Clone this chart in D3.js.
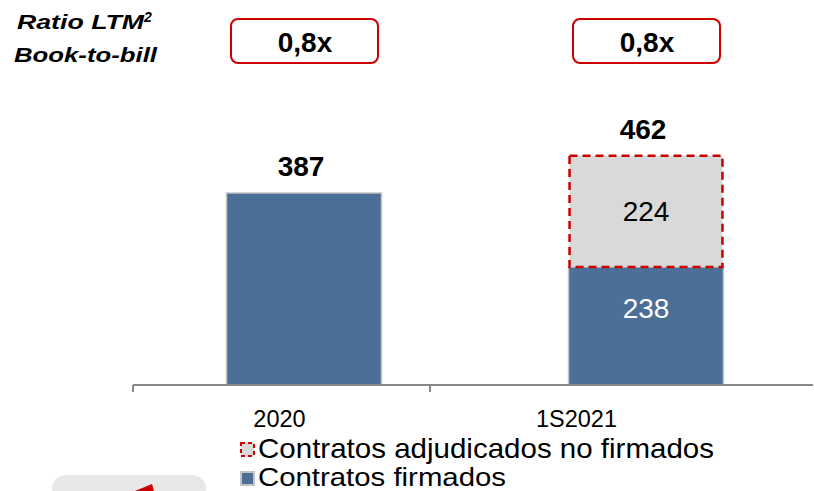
<!DOCTYPE html>
<html>
<head>
<meta charset="utf-8">
<script src="https://cdn.jsdelivr.net/npm/d3@7"></script>
<style>
  body { margin: 0; background: #fff; }
  svg { display: block; font-family: "Liberation Sans", Arial, sans-serif; }
</style>
</head>
<body>
<div id="chart"></div>
<script>
const periods = ['2020', '1S2021'];
const firmados = [387, 238];
const adjudicados = [0, 224];
const totals = [387, 462];
const ratios = ['0,8x', '0,8x'];
const legendLabels = ['Contratos adjudicados no firmados', 'Contratos firmados'];

const width = 814, height = 491;
const blue = '#4b6f97', grey = '#d9d9d9', red = '#cc0000';

const svg = d3.select('#chart').append('svg')
    .attr('width', width)
    .attr('height', height);

// category axis (ticks and labels)
const x = d3.scaleBand()
    .domain(periods)
    .range([133, 727])
    .padding(0);

// bars are laid out on their own, wider band
const xBar = d3.scaleBand()
    .domain(periods)
    .range([133, 817])
    .paddingInner(0.547)
    .paddingOuter(0.2735);

const y = d3.scaleLinear()
    .domain([0, 387])
    .range([385, 193]);

const barC = d => xBar(d) + xBar.bandwidth() / 2;

const rows = periods.map((p, i) => ({ p, f: firmados[i], a: adjudicados[i], t: totals[i], r: ratios[i] }));

// firmados
svg.append('g').selectAll('rect')
    .data(rows)
    .join('rect')
    .attr('x', d => xBar(d.p))
    .attr('y', d => y(d.f))
    .attr('width', xBar.bandwidth())
    .attr('height', d => y(0) - y(d.f))
    .attr('fill', blue)
    .attr('stroke', '#c4c4c4')
    .attr('stroke-width', 1.5);

// adjudicados no firmados
svg.append('g').selectAll('rect')
    .data(rows.filter(d => d.a > 0))
    .join('rect')
    .attr('x', d => xBar(d.p) + 1)
    .attr('y', d => y(d.f + d.a))
    .attr('width', xBar.bandwidth() - 2)
    .attr('height', d => y(d.f) - y(d.f + d.a))
    .attr('fill', grey)
    .attr('stroke', red)
    .attr('stroke-width', 2.5)
    .attr('stroke-dasharray', '8,5');

// axis
const axisY = y(0);
svg.append('line')
    .attr('x1', 133).attr('x2', 813)
    .attr('y1', axisY).attr('y2', axisY)
    .attr('stroke', '#888').attr('stroke-width', 2);
svg.append('g').selectAll('line')
    .data(periods)
    .join('line')
    .attr('x1', d => x(d)).attr('x2', d => x(d))
    .attr('y1', axisY).attr('y2', axisY + 7)
    .attr('stroke', '#888').attr('stroke-width', 2);

svg.append('g').selectAll('text')
    .data(periods)
    .join('text')
    .attr('x', d => x(d) + x.bandwidth() / 2 - 2)
    .attr('y', 427)
    .attr('text-anchor', 'middle')
    .attr('font-size', 23.5)
    .attr('fill', '#000')
    .text(d => d);

// totals
svg.append('g').selectAll('text')
    .data(rows)
    .join('text')
    .attr('x', d => barC(d.p) - 3)
    .attr('y', d => y(d.t) - 17)
    .attr('text-anchor', 'middle')
    .attr('font-size', 28)
    .attr('font-weight', 'bold')
    .text(d => d.t);

// inner labels for the stacked bar
const stacked = rows.filter(d => d.a > 0);
svg.append('g').selectAll('text')
    .data(stacked)
    .join('text')
    .attr('x', d => barC(d.p))
    .attr('y', d => (y(d.f) + y(d.f + d.a)) / 2 + 10)
    .attr('text-anchor', 'middle')
    .attr('font-size', 28)
    .text(d => d.a);
svg.append('g').selectAll('text')
    .data(stacked)
    .join('text')
    .attr('x', d => barC(d.p))
    .attr('y', d => (y(0) + y(d.f)) / 2 - 8)
    .attr('text-anchor', 'middle')
    .attr('font-size', 28)
    .attr('fill', '#fff')
    .text(d => d.f);

// ratio boxes
const boxes = svg.append('g').selectAll('g')
    .data(rows)
    .join('g')
    .attr('transform', d => `translate(${barC(d.p)},41)`);
boxes.append('rect')
    .attr('x', -73).attr('y', -22)
    .attr('width', 147).attr('height', 44)
    .attr('rx', 7)
    .attr('fill', '#fff')
    .attr('stroke', red)
    .attr('stroke-width', 2);
boxes.append('text')
    .attr('x', 1).attr('y', 11)
    .attr('text-anchor', 'middle')
    .attr('font-size', 28)
    .attr('font-weight', 'bold')
    .text(d => d.r);

// ratio title
const title = svg.append('g')
    .attr('font-weight', 'bold')
    .attr('font-style', 'italic')
    .attr('font-size', 21);
title.append('text')
    .attr('x', 17).attr('y', 29)
    .attr('textLength', 127)
    .attr('lengthAdjust', 'spacingAndGlyphs')
    .text('Ratio LTM');
title.append('text')
    .attr('x', 144).attr('y', 22)
    .attr('font-size', 14)
    .text('2');
title.append('text')
    .attr('x', 14).attr('y', 62)
    .attr('textLength', 143)
    .attr('lengthAdjust', 'spacingAndGlyphs')
    .text('Book-to-bill');

// legend
const legend = svg.append('g').selectAll('g')
    .data(legendLabels)
    .join('g')
    .attr('transform', (d, i) => `translate(241,${443 + i * 29})`);
legend.append('rect')
    .attr('width', 13).attr('height', 13)
    .attr('fill', (d, i) => i === 0 ? grey : blue)
    .attr('stroke', (d, i) => i === 0 ? red : '#c4c4c4')
    .attr('stroke-width', 2)
    .attr('stroke-dasharray', (d, i) => i === 0 ? '4,3' : null);
legend.append('text')
    .attr('x', 17)
    .attr('y', (d, i) => i === 0 ? 15 : 13.5)
    .attr('font-size', (d, i) => i === 0 ? 28 : 26.5)
    .attr('textLength', (d, i) => i === 0 ? 456 : 248)
    .attr('lengthAdjust', 'spacingAndGlyphs')
    .text(d => d);

// cut-off panel in the bottom left corner
svg.append('rect')
    .attr('x', 52).attr('y', 475)
    .attr('width', 154).attr('height', 40)
    .attr('rx', 14)
    .attr('fill', '#e8e8e8');
svg.append('path')
    .attr('d', 'M135,491 L152,484 L154,491 Z')
    .attr('fill', red);
</script>
</body>
</html>
